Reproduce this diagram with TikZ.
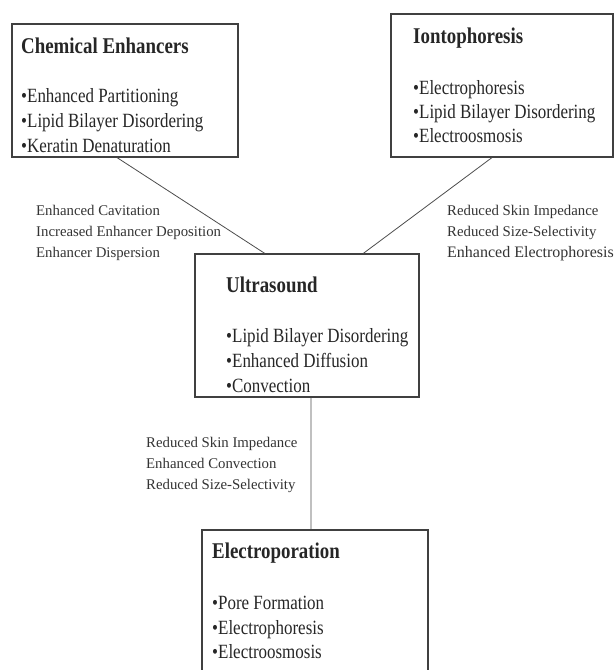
\documentclass[tikz,border=0pt]{standalone}
\usepackage{fontspec}
\setmainfont{Liberation Serif}
\newfontfamily\boxfont[FakeStretch=0.84]{Liberation Serif}
\usetikzlibrary{calc}

\tikzset{
  box/.style = {draw=black!75, line width=1.2pt, inner sep=0pt},
  head/.style = {anchor=base west, inner sep=0pt, text=black!85,
                 font=\boxfont\fontsize{22.5}{25}\selectfont\bfseries},
  item/.style = {anchor=base west, inner sep=0pt, text=black!85,
                 font=\boxfont\fontsize{20.2}{25}\selectfont},
  why/.style = {anchor=base west, inner sep=0pt, text=black!80,
                font=\fontsize{14.8}{21}\selectfont},
  link/.style = {draw=black!70, line width=0.8pt}
}

\begin{document}
\begin{tikzpicture}[x=1pt, y=-1pt]
    \useasboundingbox (0,0) rectangle (615,670);

    % boxes
    \node[box, minimum width=226pt, minimum height=133pt] (chem) at (125,90.5) {};
    \node[box, minimum width=222pt, minimum height=143pt] (ionto) at (502,85.5) {};
    \node[box, minimum width=224pt, minimum height=143pt] (ultra) at (307,325.5) {};
    \node[box, minimum width=226pt, minimum height=160pt] (electro) at (315,610) {};

    % box contents
    \node[head] (chem-head) at (21,53) {Chemical Enhancers};
    \foreach \t [count=\i] in {Enhanced Partitioning, Lipid Bilayer Disordering, Keratin Denaturation}
        \node[item] (chem-\i) at (21,{77+25*\i}) {•\t};

    \node[head] (ionto-head) at (413,43) {Iontophoresis};
    \foreach \t [count=\i] in {Electrophoresis, Lipid Bilayer Disordering, Electroosmosis}
        \node[item] (ionto-\i) at (413,{70+24*\i}) {•\t};

    \node[head] (ultra-head) at (226,292) {Ultrasound};
    \foreach \t [count=\i] in {Lipid Bilayer Disordering, Enhanced Diffusion, Convection}
        \node[item] (ultra-\i) at (226,{317+25*\i}) {•\t};

    \node[head] (electro-head) at (212,558) {Electroporation};
    \foreach \t [count=\i] in {Pore Formation, Electrophoresis, Electroosmosis}
        \node[item] (electro-\i) at (212,{585+24.5*\i}) {•\t};

    % links
    \draw[link] ($(chem.south west)!.465!(chem.south east)$) -- ($(ultra.north west)!.3125!(ultra.north east)$);
    \draw[link] ($(ionto.south west)!.455!(ionto.south east)$) -- ($(ultra.north west)!.75!(ultra.north east)$);
    \draw[link] ($(ultra.south west)!.518!(ultra.south east)$) -- ($(electro.north west)!.482!(electro.north east)$);

    % link labels
    \foreach \t [count=\i] in {Enhanced Cavitation, Increased Enhancer Deposition, Enhancer Dispersion}
        \node[why] (cu-\i) at (36,{194+21*\i}) {\t};

    \foreach \t [count=\i] in {Reduced Skin Impedance, Reduced Size-Selectivity}
        \node[why] (iu-\i) at (447,{194+21*\i}) {\t};
    \node[why, font=\fontsize{16}{21}\selectfont] (iu-3) at (447,257) {Enhanced Electrophoresis};

    \foreach \t [count=\i] in {Reduced Skin Impedance, Enhanced Convection, Reduced Size-Selectivity}
        \node[why] (ue-\i) at (146,{426+21*\i}) {\t};

\end{tikzpicture}
\end{document}
